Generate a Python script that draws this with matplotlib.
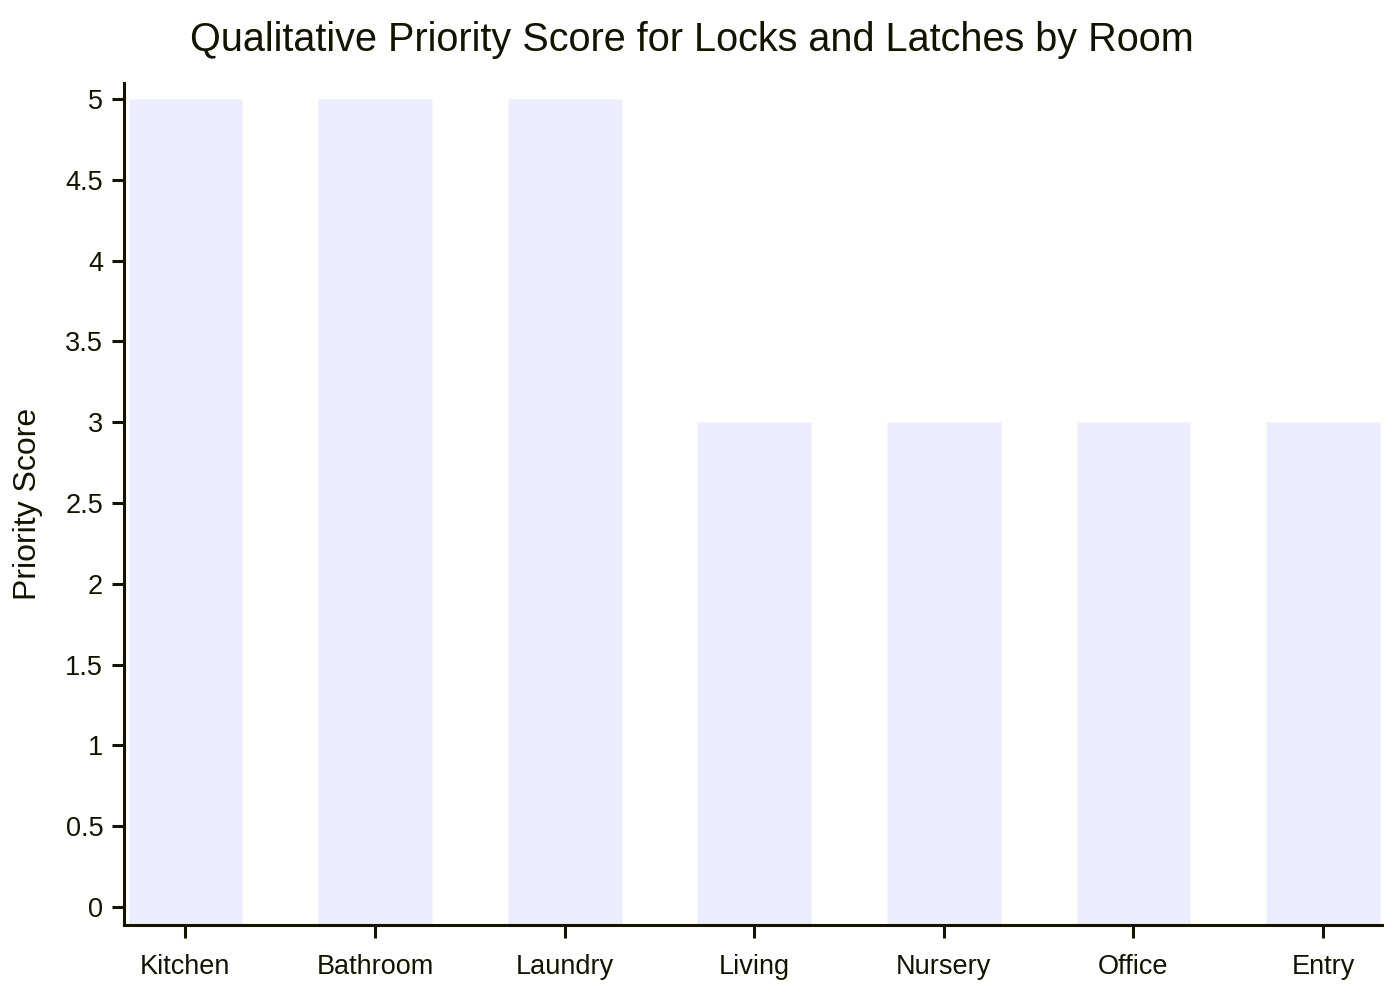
import matplotlib.pyplot as plt

rooms = ["Kitchen", "Bathroom", "Laundry", "Living", "Nursery", "Office", "Entry"]
scores = [5, 5, 5, 3, 3, 3, 3]
yticks = [0, 0.5, 1, 1.5, 2, 2.5, 3, 3.5, 4, 4.5, 5]
ytick_labels = ["0", "0.5", "1", "1.5", "2", "2.5", "3", "3.5", "4", "4.5", "5"]

ink = "#131300"
bar_color = "#ECECFF"

plt.rcParams["font.family"] = ["Liberation Sans", "DejaVu Sans"]

fig = plt.figure(figsize=(14, 10), dpi=100)
ax = fig.add_axes([124 / 1400, 0.075, (1382 - 124) / 1400, 0.842])

ymin, ymax = -0.111, 5.099
x = list(range(len(rooms)))
ax.bar(x, [s - ymin for s in scores], bottom=ymin, width=0.6,
       color=bar_color, edgecolor="#F4F4FF", linewidth=0.8)

ax.set_xlim(-0.324, 6.311)
ax.set_ylim(ymin, ymax)
ax.set_xticks(x)
ax.set_xticklabels(rooms)
ax.set_yticks(yticks)
ax.set_yticklabels(ytick_labels)

for side in ["top", "right"]:
    ax.spines[side].set_visible(False)
for side in ["left", "bottom"]:
    ax.spines[side].set_color(ink)
    ax.spines[side].set_linewidth(2.2)

ax.tick_params(axis="both", colors=ink, labelcolor=ink, width=2.2, length=9,
               labelsize=19.5)
ax.tick_params(axis="x", pad=12)
ax.tick_params(axis="y", pad=6)

ax.set_ylabel("Priority Score", fontsize=23, color=ink, labelpad=16)
fig.text(692 / 1400, 1 - 40 / 1000, "Qualitative Priority Score for Locks and Latches by Room",
         ha="center", va="center", fontsize=28.5, color=ink)

fig.savefig("out.png", dpi=100, facecolor="white")
